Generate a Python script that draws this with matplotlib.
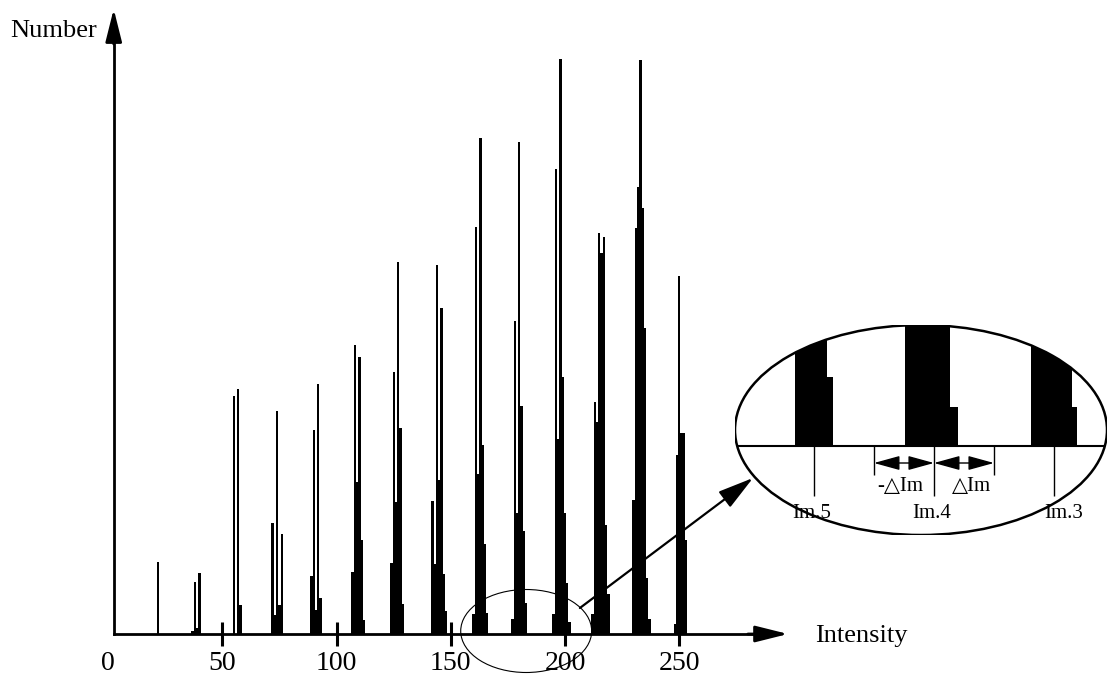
import matplotlib
matplotlib.use('Agg')
import matplotlib.pyplot as plt
from matplotlib.patches import Ellipse, ConnectionPatch

plt.rcParams['font.family'] = ['Liberation Serif', 'DejaVu Serif']

# histogram: intensity level -> pixel count (arbitrary units)
intensity = [22,
             37, 38, 39, 40,
             55, 57, 58,
             72, 73, 74, 75, 76,
             89, 90, 91, 92, 93,
             107, 108, 109, 110, 111, 112,
             124, 125, 126, 127, 128, 129,
             142, 143, 144, 145, 146, 147, 148,
             160, 161, 162, 163, 164, 165, 166,
             177, 178, 179, 180, 181, 182, 183,
             195, 196, 197, 198, 199, 200, 201, 202,
             212, 213, 214, 215, 216, 217, 218, 219,
             230, 231, 232, 233, 234, 235, 236, 237,
             248, 249, 250, 251, 252, 253]
number = [72,
          3, 52, 6, 61,
          238, 245, 29,
          111, 19, 223, 29, 100,
          58, 204, 24, 250, 36,
          62, 289, 152, 277, 94, 14,
          71, 262, 132, 372, 206, 30,
          133, 70, 369, 154, 326, 60, 23,
          20, 407, 160, 496, 189, 90, 21,
          15, 313, 121, 492, 228, 103, 31,
          20, 465, 195, 575, 257, 121, 51, 12,
          20, 232, 212, 401, 381, 397, 109, 40,
          134, 406, 447, 574, 426, 306, 56, 15,
          10, 179, 358, 201, 201, 94]

ticks = [0, 50, 100, 150, 200, 250]

# magnified inset (x in units of peak spacing, Im.5 = 0)
im_labels = ['Im.5', 'Im.4', 'Im.3']
im_pos = [0, 1, 2]
im_label_x = [-0.02, 0.98, 2.08]
inset_left = [-0.158, 0.108, 0.758, 1.133, 1.808, 2.117, 2.15]
inset_width = [0.266, 0.05, 0.375, 0.067, 0.309, 0.033, 0.04]
inset_top = [1.4, 0.69, 1.4, 0.39, 1.4, 0.79, 0.39]
delta_im = 0.5

fig = plt.figure(figsize=(11.08, 6.77), dpi=100)
ax = fig.add_axes([0, 0, 1, 1])
ax.set_xlim(-47.26, 437.6)
ax.set_ylim(-43, 634)
ax.patch.set_visible(False)

ax.bar(intensity, number, width=1.0, color='black', linewidth=0)

ax.spines['top'].set_visible(False)
ax.spines['right'].set_visible(False)
ax.spines['bottom'].set_position(('data', 0))
ax.spines['bottom'].set_bounds(2.5, 285)
ax.spines['bottom'].set_linewidth(2)
ax.spines['left'].set_position(('data', 2.5))
ax.spines['left'].set_bounds(0, 600)
ax.spines['left'].set_linewidth(2)
ax.set_yticks([])
ax.set_xticks(ticks)
ax.set_xticklabels([str(t) for t in ticks])
ax.tick_params(axis='x', direction='inout', length=17, width=2.2,
               labelsize=20, pad=4)
ax.xaxis.get_major_ticks()[0].tick1line.set_visible(False)

arrow = dict(arrowstyle='-|>,head_length=1.0,head_width=0.25', mutation_scale=20,
             lw=2, color='black', shrinkA=0, shrinkB=0)
ax.annotate('', xy=(297.6, 0), xytext=(280, 0), arrowprops=arrow)
ax.annotate('', xy=(2.5, 625), xytext=(2.5, 590), arrowprops=arrow)

ax.text(309.4, -8, 'Intensity', fontsize=19, ha='left', va='baseline')
ax.text(-42.9, 597, 'Number', fontsize=19, ha='left', va='baseline')

ax.add_patch(Ellipse((183, 3), 57.3, 83, fill=False, lw=0.8, color='black'))

# inset
inax = fig.add_axes([735 / 1108, (677 - 535) / 677, 372 / 1108, 210 / 677])
inax.set_xlim(-0.658, 2.442)
inax.set_ylim(-0.89, 1.21)
inax.axis('off')
ell = Ellipse((0.5, 0.5), 1, 1, transform=inax.transAxes, fill=False,
              lw=1.8, color='black')
inax.add_patch(ell)
bars = inax.bar(inset_left, inset_top, width=inset_width, align='edge',
                color='black', linewidth=0)
for b in bars:
    b.set_clip_path(ell)
base = inax.axhline(0, color='black', lw=1.5)
base.set_clip_path(ell)
inax.vlines(im_pos, -0.5, 0, color='black', lw=1)
inax.vlines([im_pos[1] - delta_im, im_pos[1] + delta_im], -0.29, 0,
            color='black', lw=1)
dbl = dict(arrowstyle='<|-|>,head_length=0.8,head_width=0.22', mutation_scale=20,
           lw=1, color='black', shrinkA=0, shrinkB=0)
inax.annotate('', xy=(im_pos[1] - delta_im, -0.17), xytext=(im_pos[1], -0.17),
              arrowprops=dbl)
inax.annotate('', xy=(im_pos[1], -0.17), xytext=(im_pos[1] + delta_im, -0.17),
              arrowprops=dbl)
inax.text(0.72, -0.41, '-\u25b3Im', fontsize=15, ha='center', va='center')
inax.text(1.31, -0.41, '\u25b3Im', fontsize=15, ha='center', va='center')
for lx, lab in zip(im_label_x, im_labels):
    inax.text(lx, -0.67, lab, fontsize=15, ha='center', va='center')

con = ConnectionPatch(xyA=(206.5, 26), coordsA=ax.transData,
                      xyB=(-0.508, -0.32), coordsB=inax.transData,
                      arrowstyle='-|>,head_length=1.1,head_width=0.3',
                      mutation_scale=20, lw=1.6, color='black')
fig.add_artist(con)

fig.savefig('out.png', dpi=100)
